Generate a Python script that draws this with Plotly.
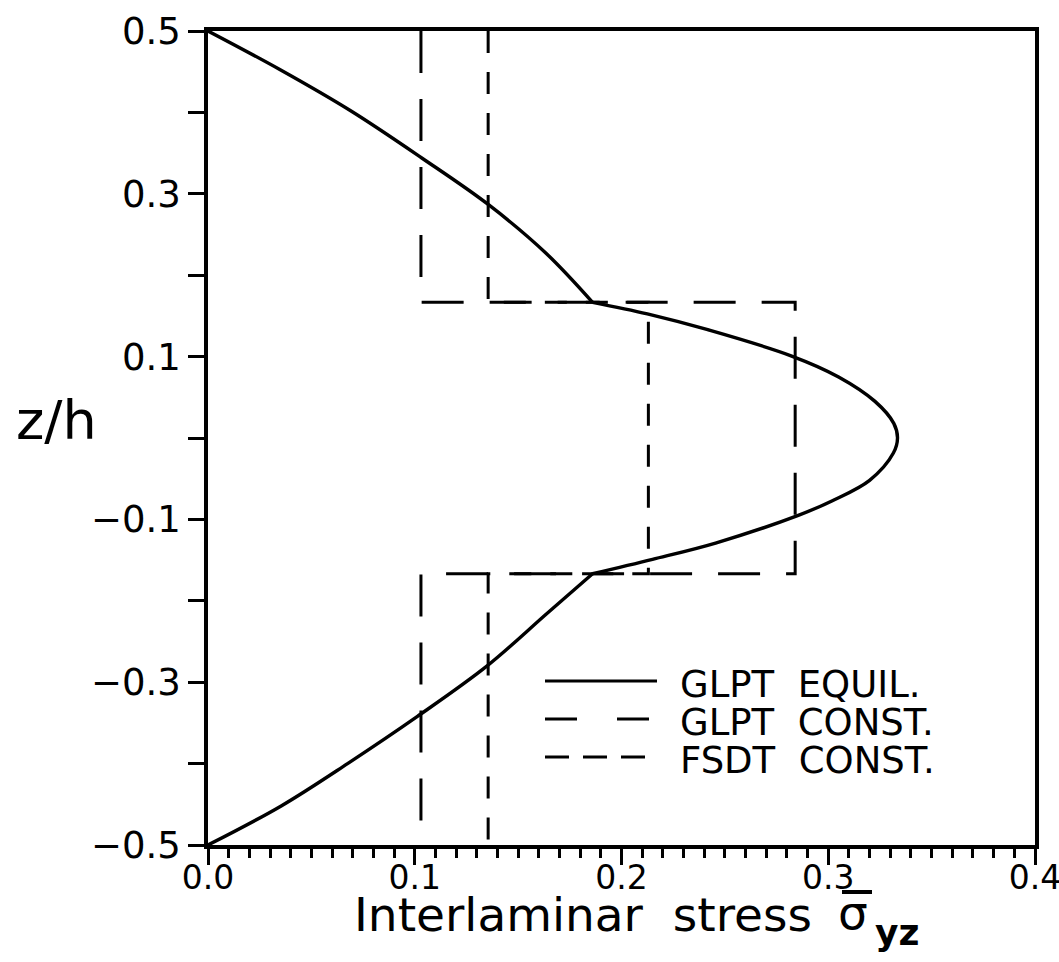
import plotly.graph_objects as go

# ---- data -------------------------------------------------------------
# GLPT equilibrium profile of the interlaminar shear stress, layer by layer
eq_top_tau = [0.0, 0.0345, 0.069, 0.1034, 0.136, 0.1635, 0.186]
eq_top_z = [0.5, 0.453, 0.402, 0.344, 0.286, 0.227, 0.1667]

eq_mid_tau = [0.186, 0.2125, 0.2417, 0.282, 0.3050, 0.3226, 0.3317, 0.3335,
              0.3315, 0.320, 0.3020, 0.2855, 0.2455, 0.2150, 0.186]
eq_mid_z = [0.1667, 0.1525, 0.133, 0.101, 0.075, 0.045, 0.018, 0.0,
            -0.0185, -0.052, -0.077, -0.0950, -0.1290, -0.1490, -0.1667]

eq_bot_tau = [0.186, 0.1638, 0.135, 0.1013, 0.0675, 0.0354, 0.0]
eq_bot_z = [-0.1667, -0.216, -0.280, -0.342, -0.400, -0.452, -0.5]

# layer interfaces (top to bottom) and layer-wise constant stresses
layer_bounds = [0.5, 0.1667, -0.1667, -0.5]
glpt_const = [0.103, 0.284, 0.103]
fsdt_const = [0.1355, 0.213, 0.1355]

x_ticks = [0.0, 0.1, 0.2, 0.3, 0.4]
y_ticks = [-0.5, -0.3, -0.1, 0.1, 0.3, 0.5]
y_ticktext = ["\u22120.5", "\u22120.3", "\u22120.1", "0.1", "0.3", "0.5"]
y_minor_ticks = [-0.4, -0.2, 0.0, 0.2, 0.4]

legend_names = ["GLPT\u00a0\u00a0EQUIL.", "GLPT\u00a0\u00a0CONST.", "FSDT\u00a0\u00a0CONST."]

# ---- figure geometry --------------------------------------------------
W, H = 1059, 962
ML, MR, MT, MB = 208, 24, 31, 117
PW, PH = W - ML - MR, H - MT - MB
FONT = "DejaVu Sans"


def px(x):
    return (x - ML) / PW


def py(y):
    return (H - MB - y) / PH


def step_profile(values):
    xs, ys = [], []
    for i, v in enumerate(values):
        xs += [v, v]
        ys += [layer_bounds[i], layer_bounds[i + 1]]
    return xs, ys


fig = go.Figure()

eq_x = eq_top_tau + [None] + eq_mid_tau + [None] + eq_bot_tau
eq_y = eq_top_z + [None] + eq_mid_z + [None] + eq_bot_z
fig.add_trace(go.Scatter(x=eq_x, y=eq_y, mode="lines", connectgaps=False,
                         line=dict(color="black", width=3.4, shape="spline", smoothing=1.0),
                         showlegend=False, cliponaxis=False))

gx, gy = step_profile(glpt_const)
fig.add_trace(go.Scatter(x=gx, y=gy, mode="lines",
                         line=dict(color="black", width=3, dash="42px,26px"),
                         showlegend=False))

fx, fy = step_profile(fsdt_const)
fig.add_trace(go.Scatter(x=fx, y=fy, mode="lines",
                         line=dict(color="black", width=3, dash="22px,19px"),
                         showlegend=False))

# ---- hand-drawn legend --------------------------------------------------
legend_rows = [681, 719, 757]
legend_dash = ["solid", "32px,40px", "24px,14px"]
for name, row, dash in zip(legend_names, legend_rows, legend_dash):
    fig.add_shape(type="line", xref="paper", yref="paper",
                  x0=px(545), x1=px(657), y0=py(row), y1=py(row),
                  line=dict(color="black", width=3, dash=dash))
    fig.add_annotation(xref="paper", yref="paper", x=px(678), y=py(row + 3),
                       text=name, showarrow=False, xanchor="left", yanchor="middle",
                       font=dict(family=FONT, size=37, color="black"))

# ---- axis titles ----------------------------------------------------------
fig.add_annotation(xref="paper", yref="paper", x=px(814), y=py(914),
                   text="Interlaminar\u00a0\u00a0stress",
                   showarrow=False, xanchor="right", yanchor="middle",
                   font=dict(family=FONT, size=47, color="black"))
fig.add_annotation(xref="paper", yref="paper", x=px(836), y=py(913),
                   text="\u03c3", showarrow=False, xanchor="left", yanchor="middle",
                   font=dict(family=FONT, size=47, color="black"))
fig.add_annotation(xref="paper", yref="paper", x=px(873), y=py(932),
                   text="<b>yz</b>", showarrow=False, xanchor="left", yanchor="middle",
                   font=dict(family=FONT, size=36, color="black"))
# overbar on sigma
fig.add_shape(type="line", xref="paper", yref="paper",
              x0=px(842), x1=px(872), y0=py(892), y1=py(892),
              line=dict(color="black", width=4))

fig.add_annotation(xref="paper", yref="paper", x=px(56), y=py(420),
                   text="z/h", showarrow=False, xanchor="center", yanchor="middle",
                   font=dict(family=FONT, size=54, color="black"))

fig.update_xaxes(range=[0, 0.4], tickvals=x_ticks, tickformat=".1f",
                 ticks="outside", ticklen=16, tickwidth=3, tickcolor="black",
                 ticklabeloverflow="allow", ticklabelstandoff=-15, automargin=False,
                 minor=dict(dtick=0.01, ticks="outside", ticklen=9, tickwidth=2.5,
                            tickcolor="black", showgrid=False),
                 showline=True, linewidth=3.5, linecolor="black", mirror=True,
                 showgrid=False, zeroline=False,
                 tickfont=dict(family=FONT, size=33, color="black"))
fig.update_yaxes(range=[-0.5, 0.5], tickvals=y_ticks, ticktext=y_ticktext,
                 ticks="outside", ticklen=16, tickwidth=3, tickcolor="black",
                 ticklabeloverflow="allow", automargin=False,
                 minor=dict(tickvals=y_minor_ticks, ticks="outside", ticklen=16,
                            tickwidth=3, tickcolor="black", showgrid=False),
                 showline=True, linewidth=3.5, linecolor="black", mirror=True,
                 showgrid=False, zeroline=False,
                 tickfont=dict(family=FONT, size=37, color="black"))

fig.update_layout(width=W, height=H, margin=dict(l=ML, r=MR, t=MT, b=MB),
                  plot_bgcolor="white", paper_bgcolor="white", showlegend=False)

fig.write_html("out.html")
